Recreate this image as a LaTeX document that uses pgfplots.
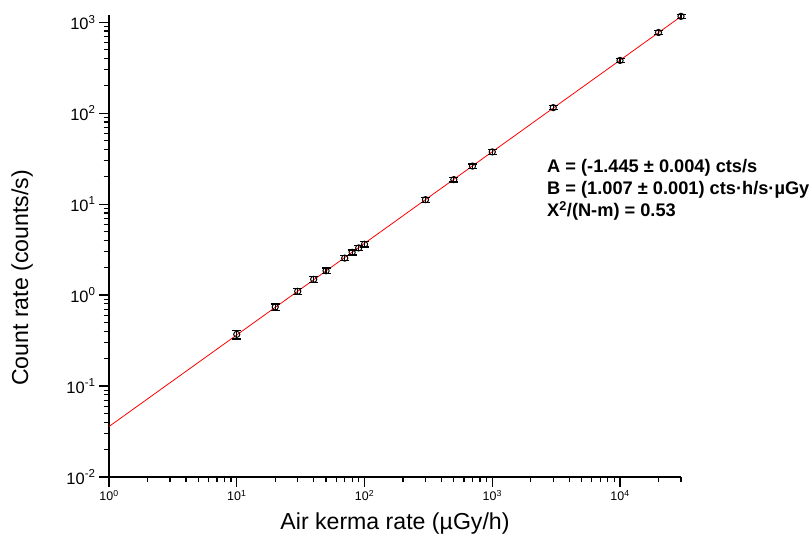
\documentclass[border=0pt]{standalone}
\usepackage{fontspec}
\setmainfont{Liberation Sans}
\usepackage{pgfplots}
\pgfplotsset{compat=1.18}
\pgfplotstableread{
x y err
10 0.37 0.040
20 0.74 0.060
30 1.10 0.090
40 1.49 0.110
50 1.85 0.130
70 2.55 0.170
80 2.95 0.190
90 3.30 0.210
100 3.62 0.230
300 11.2 0.70
500 18.6 1.1
700 26.2 1.5
1000 37.5 2.1
3000 115 6
10000 380 20
20000 770 40
30000 1160 60
}\datatable
\begin{document}
\begin{tikzpicture}
\begin{loglogaxis}[
  name=ax,
  scale only axis,
  width=572bp, height=462bp,
  xmin=1, xmax=30000,
  ymin=0.01, ymax=1200,
  axis x line*=bottom,
  axis y line*=left,
  axis line style={-, line width=1.5bp, black},
  tick align=outside,
  major tick length=10bp,
  minor tick length=5.5bp,
  every tick/.style={black, line width=1.2bp},
  xtick={1,10,100,1000,10000},
  xticklabels={10\textsuperscript{0},10\textsuperscript{1},10\textsuperscript{2},10\textsuperscript{3},10\textsuperscript{4}},
  minor xtick={2,3,4,5,6,7,8,9,20,30,40,50,60,70,80,90,200,300,400,500,600,700,800,900,2000,3000,4000,5000,6000,7000,8000,9000,20000,30000},
  ytick={0.01,0.1,1,10,100,1000},
  yticklabels={10\textsuperscript{-2},10\textsuperscript{-1},10\textsuperscript{0},10\textsuperscript{1},10\textsuperscript{2},10\textsuperscript{3}},
  minor ytick={0.02,0.03,0.04,0.05,0.06,0.07,0.08,0.09,0.2,0.3,0.4,0.5,0.6,0.7,0.8,0.9,2,3,4,5,6,7,8,9,20,30,40,50,60,70,80,90,200,300,400,500,600,700,800,900},
  xticklabel style={font=\fontsize{12.5}{14}\selectfont},
  yticklabel style={font=\fontsize{16.5}{18}\selectfont},
  xlabel={Air kerma rate (µGy/h)},
  ylabel={Count rate (counts/s)},
  label style={font=\fontsize{23.2}{26}\selectfont},
  xlabel style={at={(axis description cs:0.5,-0.1017)}, anchor=center},
  ylabel style={at={(axis description cs:-0.152,0.431)}, anchor=center},
  clip=false,
]
\addplot[red, line width=0.8bp] coordinates {(1,0.0359) (30000,1156)};
\addplot[black, only marks, mark=o, mark size=3.1bp, mark options={line width=1bp},
  error bars/.cd, y dir=both, y explicit, error mark options={rotate=90, mark size=4.5bp, line width=1.3bp},
  error bar style={line width=1.2bp}]
  table[x=x, y=y, y error=err] {\datatable};
\node[anchor=north west, align=left, font=\fontsize{18.3}{22.5}\selectfont\bfseries, inner sep=0pt]
  at (axis description cs:0.7657,0.689)
  {A = (-1.445 ± 0.004) cts/s\\B = (1.007 ± 0.001) cts·h/s·µGy\\X\textsuperscript{2}/(N-m) = 0.53};
\end{loglogaxis}
\pgfresetboundingbox
\path[use as bounding box] ([xshift=-109bp,yshift=-63bp]ax.south west) rectangle ([xshift=128bp,yshift=15bp]ax.north east);
\end{tikzpicture}
\end{document}
